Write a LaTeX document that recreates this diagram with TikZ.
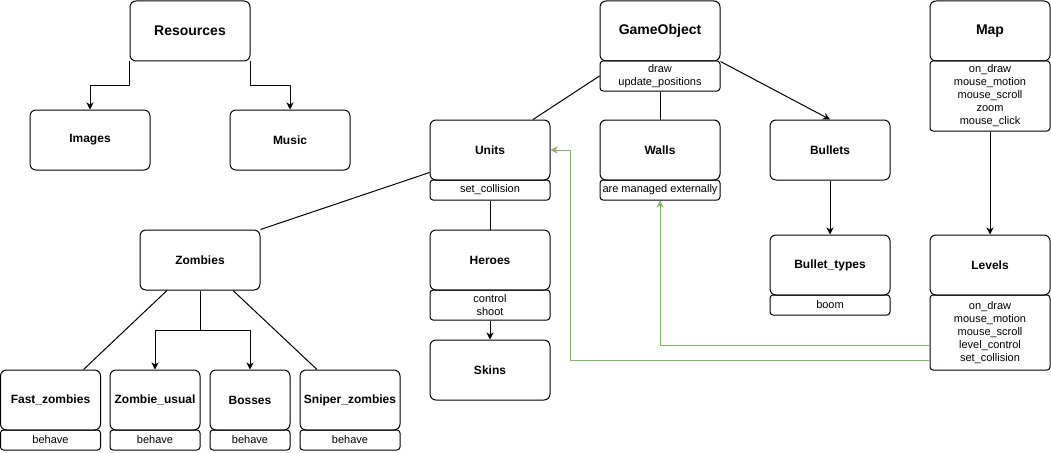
\documentclass[tikz,border=0pt]{standalone}
\usepackage{fontspec}
\setmainfont{Liberation Sans}
\usetikzlibrary{arrows.meta,calc,positioning}
\definecolor{linkgreen}{RGB}{130,179,102}

\begin{document}
\begin{tikzpicture}[x=1pt, y=-1pt, line join=round, line width=1pt,
  classbox/.style={draw, rounded corners=6pt, minimum width=120pt, minimum height=60pt, inner sep=1pt,
    font=\fontsize{12}{14}\selectfont\bfseries},
  topbox/.style={classbox, font=\fontsize{14}{16}\selectfont\bfseries},
  methbox/.style={draw, rounded corners=3pt, minimum width=120pt, minimum height=20pt, inner sep=1pt,
    align=center, font=\fontsize{11}{13}\selectfont},
  arr/.style={-{Stealth[length=7pt, width=7pt, inset=2pt]}},
  greenarr/.style={arr, draw=linkgreen}]
\useasboundingbox (0,0) rectangle (1051,452);
% top row
\node[topbox] (res)  at (190,31) {Resources};
\node[classbox] (img) at (90,140) {Images};
\node[classbox] (mus) at (290,140) {Music};
\node[topbox] (gobj) at (660,31) {GameObject};
\node[methbox, minimum height=30pt] (gsub) at (660,76) {draw\\update\_positions};
\node[topbox] (map)  at (990,31) {Map};
\node[methbox, minimum height=70pt] (msub) at (990,96)
  {on\_draw\\mouse\_motion\\mouse\_scroll\\zoom\\mouse\_click};
% middle
\node[classbox] (units) at (490,150) {Units};
\node[methbox] (usub)   at (490,190) {set\_collision};
\node[classbox] (walls) at (660,150) {Walls};
\node[methbox] (wsub)   at (660,190) {are managed externally};
\node[classbox] (bul)   at (830,150) {Bullets};
\node[classbox] (btyp)  at (830,265) {Bullet\_types};
\node[methbox] (bsub)   at (830,305) {boom};
\node[classbox] (lev)   at (990,265) {Levels};
\node[methbox, minimum height=75pt] (lsub) at (990,332.5)
  {on\_draw\\mouse\_motion\\mouse\_scroll\\level\_control\\set\_collision};
\node[classbox] (hero)  at (490,260) {Heroes};
\node[methbox, minimum height=30pt] (hsub) at (490,305) {control\\shoot};
\node[classbox] (skins) at (490,370) {Skins};
% zombies
\node[classbox] (zomb) at (200,260) {Zombies};
\node[classbox, minimum width=100pt] (fast)  at (50.5,400) {Fast\_zombies};
\node[methbox,  minimum width=100pt] (fsub)  at (50.5,440) {behave};
\node[classbox, minimum width=90pt]  (usual) at (155,400) {Zombie\_usual};
\node[methbox,  minimum width=90pt]  (usub2) at (155,440) {behave};
\node[classbox, minimum width=80pt]  (boss)  at (250,400) {Bosses};
\node[methbox,  minimum width=80pt]  (bosub) at (250,440) {behave};
\node[classbox, minimum width=100pt] (snip)  at (350,400) {Sniper\_zombies};
\node[methbox,  minimum width=100pt] (ssub)  at (350,440) {behave};
% connectors
\draw[arr] (res.south west) -- ++(0,24) -| (img.north);
\draw[arr] (res.south east) -- ++(0,24) -| (mus.north);
\draw (gsub.west) -- ([xshift=43pt]units.north);
\draw (gsub.south) -- (walls.north);
\draw[arr] (gobj.south east) -- (bul.north);
\draw[arr] (bul.south) -- (btyp.north);
\draw[arr] (msub.south) -- (lev.north);
\draw (usub.south) -- (hero.north);
\draw[arr] (hsub.south) -- (skins.north);
\draw ([yshift=8pt]units.south west) -- (zomb.north east);
\draw ([xshift=-33pt]zomb.south) -- ([xshift=33pt]fast.north);
\draw ([xshift=33pt]zomb.south) -- ([xshift=-33pt]snip.north);
\draw[arr] (zomb.south) -- ++(0,40) -| (usual.north);
\draw[arr] (zomb.south) -- ++(0,40) -| (boss.north);
% green links
\coordinate (gbend) at (570,360);
\draw[greenarr] ([yshift=-12.5pt]lsub.west) -| (wsub.south);
\draw[greenarr] ([yshift=-27.5pt]lsub.west) -- (gbend) |- (units.east);
\end{tikzpicture}
\end{document}
